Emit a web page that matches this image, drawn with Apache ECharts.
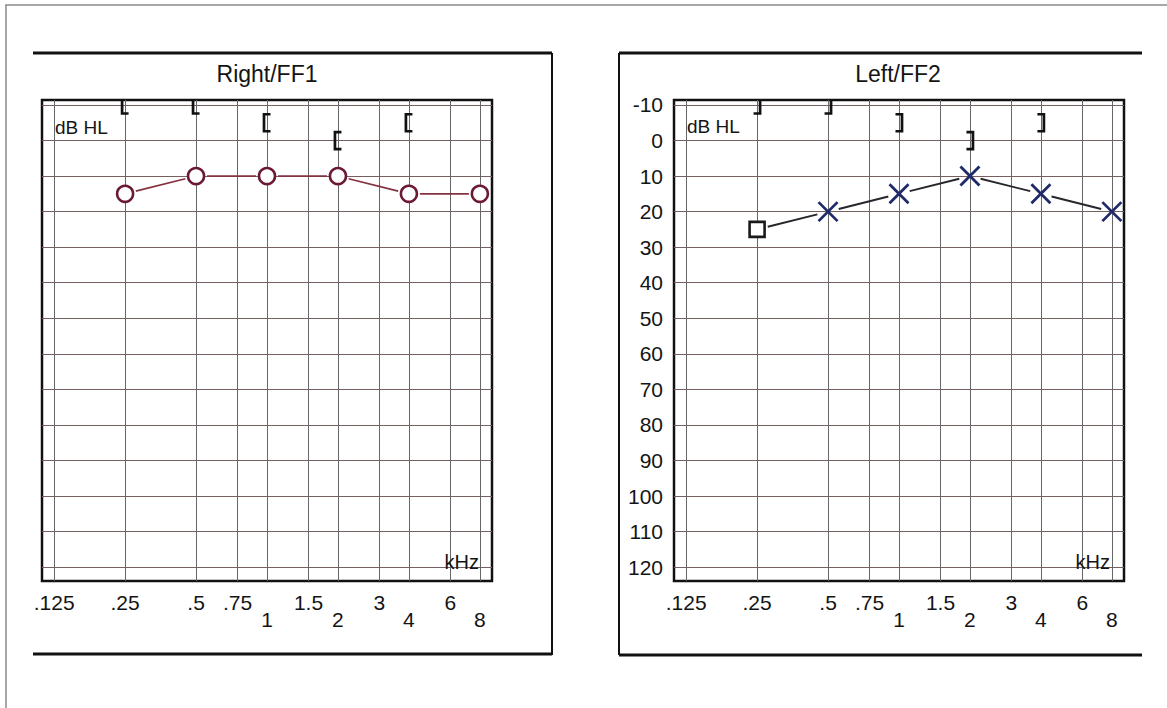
<!DOCTYPE html>
<html><head><meta charset="utf-8">
<script src="https://cdn.jsdelivr.net/npm/echarts@6/dist/echarts.min.js"></script>
<style>html,body{margin:0;padding:0;background:#fff}#c{width:1167px;height:708px}</style>
</head><body><div id="c"></div>
<script>
// ---- data ----
const freqTicks = [0.125, 0.25, 0.5, 0.75, 1, 1.5, 2, 3, 4, 6, 8];
const freqTickLabels = ['.125', '.25', '.5', '.75', '1', '1.5', '2', '3', '4', '6', '8'];
const lowRowLabels = ['1', '2', '4', '8'];
const dbTicks = [-10, 0, 10, 20, 30, 40, 50, 60, 70, 80, 90, 100, 110, 120];
const acFreqs = [0.25, 0.5, 1, 2, 4, 8];
const rightAC = [15, 10, 10, 10, 15, 15];          // Right/FF1, circles
const bcFreqs = [0.25, 0.5, 1, 2, 4];
const rightBC = [-10, -10, -5, 0, -5];             // Right/FF1, '['
const leftAC = [25, 20, 15, 10, 15, 20];           // Left/FF2
const leftACKind = ['square', 'x', 'x', 'x', 'x', 'x'];
const leftBC = [-10, -10, -5, 0, -5];              // Left/FF2, ']'
const titles = ['Right/FF1', 'Left/FF2'];

// ---- helpers ----
const lg = Math.log2;
const X_MIN = -3.171, X_MAX = 3.171, Y_MIN = -11.4, Y_MAX = 123.9;
const FONT = "'Liberation Sans', Arial, Helvetica, sans-serif";
const TXT = '#141414';
const xTickVals = freqTicks.map(lg);

function pts(freqs, vals) { return freqs.map((f, i) => [lg(f), vals[i]]); }
function segs(freqs, vals) {
  const out = [];
  for (let i = 1; i < freqs.length; i++) out.push([lg(freqs[i - 1]), vals[i - 1], lg(freqs[i]), vals[i]]);
  return out;
}
function segRender(color, width, gap) {
  return function (params, api) {
    const a = api.coord([api.value(0), api.value(1)]);
    const b = api.coord([api.value(2), api.value(3)]);
    const dx = b[0] - a[0], dy = b[1] - a[1], L = Math.sqrt(dx * dx + dy * dy);
    const ux = dx / L, uy = dy / L;
    return { type: 'line', shape: { x1: a[0] + ux * gap, y1: a[1] + uy * gap, x2: b[0] - ux * gap, y2: b[1] - uy * gap },
      style: { stroke: color, lineWidth: width } };
  };
}
function bracketRender(dir) {
  return function (params, api) {
    const p = api.coord([api.value(0), api.value(1)]);
    const h = 8.5, vx = p[0] + dir * 3, ax = p[0] - dir * 3.5;
    return { type: 'polyline', shape: { points: [[ax, p[1] - h], [vx, p[1] - h], [vx, p[1] + h], [ax, p[1] + h]] },
      style: { stroke: '#111', lineWidth: 2.7, fill: null } };
  };
}
function xFmt(v) {
  let k = 0, best = 1e9;
  xTickVals.forEach((t, i) => { const d = Math.abs(t - v); if (d < best) { best = d; k = i; } });
  const s = freqTickLabels[k];
  return lowRowLabels.indexOf(s) >= 0 ? '\n' + s : s;
}

const gridLefts = [42, 674];
const grids = gridLefts.map(l => ({ left: l, top: 100, width: 450, height: 481, show: true,
  borderColor: '#111', borderWidth: 2.5, backgroundColor: 'transparent', containLabel: false }));

const xAxes = [0, 1].map(i => ({
  gridIndex: i, type: 'value', min: X_MIN, max: X_MAX,
  axisLine: { show: false }, axisTick: { show: false, customValues: xTickVals },
  axisLabel: { customValues: xTickVals, formatter: xFmt, margin: 13, fontSize: 21, lineHeight: 17,
    color: TXT, fontFamily: FONT },
  splitLine: { show: true, lineStyle: { color: '#666', width: 1 } }
}));
const yAxes = [0, 1].map(i => ({
  gridIndex: i, type: 'value', inverse: true, min: Y_MIN, max: Y_MAX,
  axisLine: { show: false }, axisTick: { show: false, customValues: dbTicks },
  axisLabel: { show: i === 1, customValues: dbTicks, margin: 11, fontSize: 21, color: TXT, fontFamily: FONT },
  splitLine: { show: true, lineStyle: { color: '#765f5f', width: 1 } }
}));

const series = [
  { type: 'custom', xAxisIndex: 0, yAxisIndex: 0, data: segs(acFreqs, rightAC), encode: { x: [0, 2], y: [1, 3] },
    renderItem: segRender('#84323f', 1.7, 11), z: 3, silent: true },
  { type: 'scatter', xAxisIndex: 0, yAxisIndex: 0, data: pts(acFreqs, rightAC), symbol: 'circle', symbolSize: 16,
    itemStyle: { color: '#fff', borderColor: '#6b1a33', borderWidth: 2.6, opacity: 1 }, z: 4, silent: true },
  { type: 'custom', xAxisIndex: 0, yAxisIndex: 0, data: pts(bcFreqs, rightBC), clip: true,
    renderItem: bracketRender(-1), z: 4, silent: true },

  { type: 'custom', xAxisIndex: 1, yAxisIndex: 1, data: segs(acFreqs, leftAC), encode: { x: [0, 2], y: [1, 3] },
    renderItem: segRender('#26262c', 1.9, 11), z: 3, silent: true },
  { type: 'scatter', xAxisIndex: 1, yAxisIndex: 1,
    data: pts(acFreqs, leftAC).filter((d, i) => leftACKind[i] === 'square'), symbol: 'rect', symbolSize: 15,
    itemStyle: { color: '#fff', borderColor: '#1a1a1a', borderWidth: 2.6, opacity: 1 }, z: 4, silent: true },
  { type: 'scatter', xAxisIndex: 1, yAxisIndex: 1,
    data: pts(acFreqs, leftAC).filter((d, i) => leftACKind[i] === 'x'),
    symbol: 'path://M0,0L20,20M20,0L0,20', symbolSize: 19,
    itemStyle: { color: 'none', borderColor: '#1f2a68', borderWidth: 2.8, opacity: 1 }, z: 4, silent: true },
  { type: 'custom', xAxisIndex: 1, yAxisIndex: 1, data: pts(bcFreqs, leftBC), clip: true,
    renderItem: bracketRender(1), z: 4, silent: true }
];

function txt(x, y, s, size, align) {
  return { type: 'text', x: x, y: y, silent: true, z: 10,
    style: { text: s, font: size + 'px ' + FONT, fill: TXT, align: align, textAlign: align,
      verticalAlign: 'middle', textVerticalAlign: 'middle' } };
}
function ln(x1, y1, x2, y2, w, c) {
  return { type: 'line', silent: true, shape: { x1, y1, x2, y2 }, style: { stroke: c || '#111', lineWidth: w } };
}
const graphic = [
  { type: 'rect', silent: true, shape: { x: 6, y: 5, width: 1200, height: 760 }, style: { fill: null, stroke: '#8a8a8a', lineWidth: 1.5 } },
  ln(33, 53, 552, 53, 3), ln(552, 53, 552, 655, 2), ln(33, 654, 552, 654, 3),
  ln(619, 53, 619, 655, 2), ln(619, 53, 1142, 53, 3), ln(619, 655, 1142, 655, 3),
  txt(267, 74, titles[0], 23, 'center'), txt(898, 74, titles[1], 23, 'center'),
  txt(55, 127, 'dB HL', 19, 'left'), txt(687, 126, 'dB HL', 19, 'left'),
  txt(479, 562, 'kHz', 20, 'right'), txt(1110, 562, 'kHz', 20, 'right')
];

const chart = echarts.init(document.getElementById('c'), null, { renderer: 'svg' });
chart.setOption({
  animation: false, backgroundColor: '#fff',
  grid: grids, xAxis: xAxes, yAxis: yAxes, series: series, graphic: graphic
});
</script></body></html>
